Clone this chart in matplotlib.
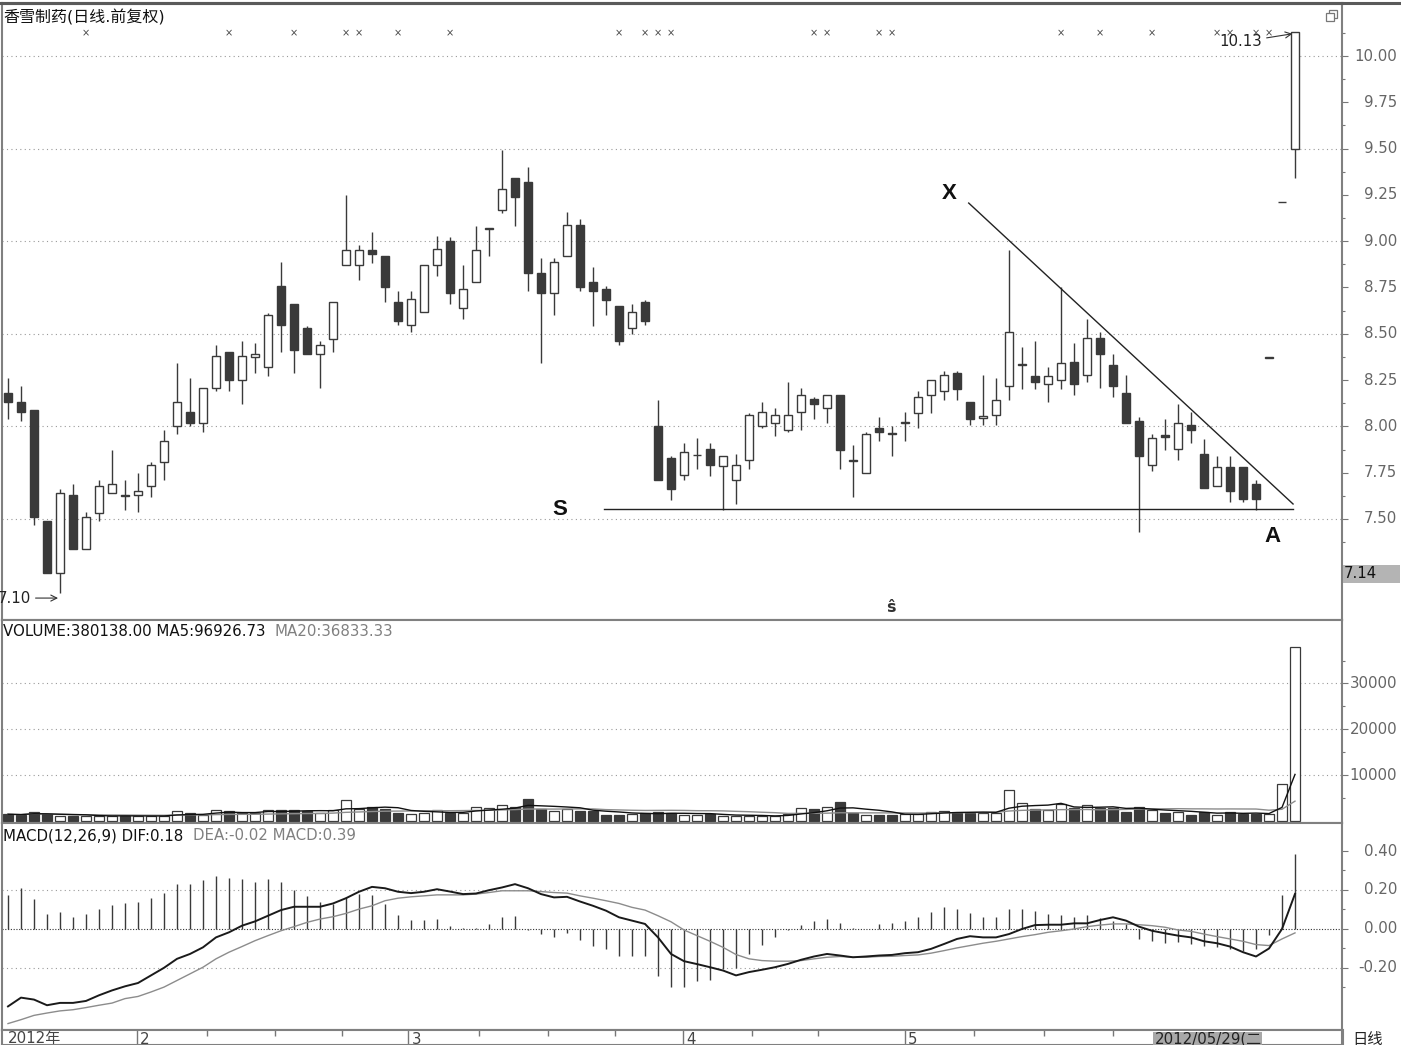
import matplotlib
matplotlib.use("Agg")
import matplotlib.pyplot as plt
from matplotlib.patches import Rectangle
from matplotlib.ticker import FixedLocator
import numpy as np
import pandas as pd

plt.rcParams['font.family'] = ['DejaVu Sans', 'Noto Sans CJK SC']

# ---- daily bars (前复权), one entry per trading day ----
opens = [8.18, 8.13, 8.09, 7.49, 7.21, 7.63, 7.34, 7.53, 7.64, 7.63,
         7.63, 7.68, 7.81, 8.00, 8.08, 8.02, 8.21, 8.40, 8.25, 8.375,
         8.32, 8.76, 8.66, 8.53, 8.39, 8.47, 8.87, 8.87, 8.95, 8.92,
         8.67, 8.55, 8.62, 8.87, 9.00, 8.64, 8.78, 9.065, 9.17, 9.34,
         9.32, 8.83, 8.72, 8.92, 9.09, 8.78, 8.74, 8.65, 8.53, 8.67,
         8.00, 7.83, 7.74, 7.843, 7.88, 7.785, 7.71, 7.82, 8.00, 8.02,
         7.98, 8.08, 8.15, 8.10, 8.17, 7.815, 7.75, 7.99, 7.963, 8.018,
         8.07, 8.17, 8.19, 8.29, 8.13, 8.044, 8.06, 8.22, 8.333, 8.27,
         8.23, 8.25, 8.35, 8.28, 8.48, 8.33, 8.18, 8.03, 7.79, 7.953,
         7.88, 8.01, 7.85, 7.68, 7.78, 7.78, 7.69, 8.37, 9.21, 9.50]
highs = [8.26, 8.22, 8.09, 7.49, 7.66, 7.69, 7.54, 7.71, 7.87, 7.71,
         7.75, 7.81, 7.98, 8.34, 8.26, 8.21, 8.44, 8.40, 8.46, 8.45,
         8.61, 8.89, 8.66, 8.54, 8.46, 8.67, 9.25, 8.98, 9.05, 8.92,
         8.73, 8.73, 8.87, 9.03, 9.02, 8.87, 9.08, 9.07, 9.49, 9.34,
         9.40, 8.91, 8.91, 9.16, 9.12, 8.86, 8.76, 8.65, 8.66, 8.68,
         8.14, 7.84, 7.91, 7.94, 7.91, 7.84, 7.85, 8.07, 8.13, 8.10,
         8.24, 8.21, 8.16, 8.17, 8.17, 7.90, 7.97, 8.05, 8.00, 8.08,
         8.19, 8.25, 8.30, 8.30, 8.13, 8.28, 8.26, 8.95, 8.43, 8.46,
         8.32, 8.75, 8.45, 8.58, 8.51, 8.39, 8.28, 8.05, 7.96, 8.04,
         8.12, 8.08, 7.93, 7.84, 7.84, 7.78, 7.71, 8.37, 9.21, 10.13]
lows = [8.04, 8.03, 7.47, 7.21, 7.10, 7.34, 7.34, 7.49, 7.64, 7.55,
        7.54, 7.62, 7.71, 7.96, 8.00, 7.97, 8.19, 8.19, 8.12, 8.29,
        8.27, 8.40, 8.29, 8.39, 8.21, 8.40, 8.87, 8.79, 8.88, 8.67,
        8.55, 8.51, 8.62, 8.81, 8.66, 8.58, 8.78, 8.92, 9.15, 9.08,
        8.73, 8.34, 8.60, 8.92, 8.73, 8.54, 8.60, 8.44, 8.50, 8.55,
        7.71, 7.60, 7.71, 7.77, 7.73, 7.55, 7.58, 7.77, 7.99, 7.95,
        7.97, 7.98, 8.04, 8.02, 7.77, 7.62, 7.75, 7.92, 7.84, 7.92,
        7.99, 8.07, 8.14, 8.14, 8.01, 8.01, 8.01, 8.14, 8.20, 8.20,
        8.13, 8.20, 8.17, 8.24, 8.21, 8.16, 8.02, 7.43, 7.76, 7.87,
        7.82, 7.91, 7.67, 7.68, 7.59, 7.59, 7.55, 8.37, 9.21, 9.34]
closes = [8.13, 8.08, 7.51, 7.21, 7.64, 7.34, 7.51, 7.68, 7.69, 7.625,
          7.65, 7.79, 7.92, 8.13, 8.02, 8.21, 8.38, 8.25, 8.38, 8.39,
          8.60, 8.55, 8.41, 8.39, 8.44, 8.67, 8.95, 8.95, 8.93, 8.75,
          8.57, 8.69, 8.87, 8.96, 8.72, 8.74, 8.95, 9.07, 9.28, 9.24,
          8.83, 8.72, 8.89, 9.09, 8.75, 8.73, 8.68, 8.46, 8.62, 8.57,
          7.71, 7.66, 7.86, 7.845, 7.79, 7.84, 7.79, 8.06, 8.08, 8.06,
          8.06, 8.17, 8.12, 8.17, 7.87, 7.812, 7.96, 7.97, 7.96, 8.02,
          8.16, 8.25, 8.28, 8.20, 8.04, 8.057, 8.14, 8.51, 8.335, 8.24,
          8.27, 8.34, 8.23, 8.48, 8.39, 8.22, 8.02, 7.84, 7.94, 7.945,
          8.02, 7.98, 7.67, 7.78, 7.65, 7.61, 7.61, 8.37, 9.21, 10.13]

# volume in chart units (x10)
volume = [1430, 1285, 1930, 1430, 1070, 1070, 1070, 1070, 1070, 1140,
          1000, 1000, 1070, 2140, 1640, 1210, 2360, 2140, 1640, 1640,
          2360, 2430, 2430, 2070, 1790, 2280, 4500, 2640, 3000, 2500,
          1640, 1500, 1710, 2430, 1790, 1790, 3000, 2710, 3360, 3000,
          4780, 2500, 2140, 2640, 2140, 2210, 1360, 1290, 1570, 1640,
          1930, 1785, 1285, 1285, 1570, 1070, 1070, 1070, 1070, 1070,
          1570, 2710, 2500, 3070, 4070, 1785, 1285, 1285, 1285, 1570,
          1570, 2000, 2140, 1785, 1785, 1785, 1785, 6640, 3930, 2500,
          2285, 3710, 2710, 3430, 2710, 2710, 2000, 3000, 2285, 1785,
          2000, 1285, 2000, 1285, 2000, 1570, 1570, 1480, 8000, 38014]

dif = [-0.397, -0.352, -0.362, -0.391, -0.379, -0.379, -0.369, -0.340, -0.315, -0.294,
       -0.277, -0.238, -0.199, -0.153, -0.128, -0.094, -0.043, -0.017, 0.017, 0.039,
       0.068, 0.097, 0.114, 0.114, 0.114, 0.131, 0.158, 0.191, 0.216, 0.209,
       0.191, 0.184, 0.191, 0.204, 0.192, 0.179, 0.182, 0.199, 0.213, 0.230,
       0.209, 0.179, 0.162, 0.165, 0.141, 0.119, 0.094, 0.060, 0.043, 0.026,
       -0.043, -0.128, -0.165, -0.180, -0.196, -0.213, -0.238, -0.221, -0.209, -0.196,
       -0.179, -0.158, -0.141, -0.128, -0.136, -0.145, -0.141, -0.136, -0.133, -0.124,
       -0.119, -0.102, -0.077, -0.051, -0.037, -0.043, -0.043, -0.026, 0.000, 0.020,
       0.022, 0.022, 0.029, 0.029, 0.046, 0.060, 0.043, 0.012, -0.009, -0.022,
       -0.034, -0.043, -0.063, -0.073, -0.090, -0.119, -0.141, -0.100, 0.000, 0.180]
dea = [-0.485, -0.465, -0.443, -0.431, -0.420, -0.414, -0.403, -0.391, -0.380, -0.357,
       -0.346, -0.323, -0.298, -0.264, -0.230, -0.196, -0.153, -0.119, -0.090, -0.060,
       -0.034, -0.009, 0.012, 0.034, 0.051, 0.063, 0.080, 0.102, 0.119, 0.145,
       0.158, 0.165, 0.170, 0.175, 0.175, 0.175, 0.179, 0.187, 0.196, 0.196,
       0.196, 0.192, 0.187, 0.184, 0.170, 0.158, 0.145, 0.131, 0.111, 0.097,
       0.068, 0.037, -0.005, -0.034, -0.063, -0.094, -0.131, -0.153, -0.162, -0.165,
       -0.165, -0.162, -0.153, -0.145, -0.141, -0.145, -0.145, -0.141, -0.140, -0.136,
       -0.133, -0.124, -0.111, -0.097, -0.085, -0.073, -0.063, -0.051, -0.039, -0.029,
       -0.017, -0.009, 0.000, 0.012, 0.020, 0.026, 0.026, 0.022, 0.017, 0.009,
       -0.005, -0.012, -0.026, -0.039, -0.051, -0.063, -0.080, -0.085, -0.051, -0.020]
macd = [0.174, 0.208, 0.153, 0.077, 0.089, 0.060, 0.077, 0.102, 0.124, 0.131,
        0.136, 0.158, 0.187, 0.230, 0.230, 0.250, 0.272, 0.264, 0.255, 0.243,
        0.255, 0.242, 0.199, 0.167, 0.141, 0.128, 0.165, 0.182, 0.174, 0.128,
        0.073, 0.046, 0.046, 0.051, 0.017, 0.005, 0.005, 0.026, 0.060, 0.068,
        -0.005, -0.026, -0.043, -0.022, -0.056, -0.085, -0.102, -0.141, -0.136, -0.136,
        -0.243, -0.298, -0.298, -0.265, -0.264, -0.204, -0.199, -0.128, -0.080, -0.039,
        -0.005, 0.020, 0.039, 0.051, 0.029, 0.005, 0.002, 0.026, 0.029, 0.039,
        0.060, 0.085, 0.111, 0.102, 0.080, 0.060, 0.060, 0.102, 0.102, 0.090,
        0.077, 0.073, 0.060, 0.073, 0.056, 0.043, 0.026, -0.051, -0.063, -0.071,
        -0.068, -0.077, -0.085, -0.090, -0.102, -0.111, -0.102, -0.030, 0.175, 0.386]

# info-mine markers (bar index) shown as x along the top
mine_idx = [6, 17, 22, 26, 27, 30, 34, 47, 49, 50, 51, 62, 63, 67, 68,
            81, 84, 88, 93, 94, 96, 97]

price_ticks = [7.50, 7.75, 8.00, 8.25, 8.50, 8.75, 9.00, 9.25, 9.50, 9.75, 10.00]
vol_ticks = [10000, 20000, 30000]
macd_ticks = [0.40, 0.20, 0.00, -0.20]

month_labels = ['2', '3', '4', '5']
month_pos = [9.9, 30.8, 51.9, 69.0]
week_pos = [15.3, 20.5, 25.7, 36.2, 41.5, 46.7, 57.2, 62.3, 74.3, 79.7, 85.0]

# hand-drawn support / resistance lines
s_line = ([45.85, 98.85], [7.554, 7.554])
x_line = ([73.9, 98.85], [9.206, 7.581])

W, H = 1401, 1045
DARK = '#3a3a3a'
GRAYLINE = '#8c8c8c'
SPINE = '#808080'
LABEL = '#666666'
FS = 10.8

idx = np.arange(len(closes))
o, h, l, c = (np.array(a) for a in (opens, highs, lows, closes))
up = c >= o
face = np.where(up, 'white', DARK)
vol_ma5 = pd.Series(volume).rolling(5, min_periods=1).mean()
vol_ma20 = pd.Series(volume).rolling(20, min_periods=1).mean()

fig = plt.figure(figsize=(W / 100, H / 100), dpi=100)
fig.patch.set_facecolor('white')


def px_axes(x0, y0, x1, y1):
    return fig.add_axes([x0 / W, 1 - y1 / H, (x1 - x0) / W, (y1 - y0) / H])


ax_p = px_axes(2, 3, 1342, 620)
ax_v = px_axes(2, 620, 1342, 823)
ax_m = px_axes(2, 823, 1342, 1030)
ax_d = px_axes(2, 1030, 1342, 1045)

XLIM = (-0.4615, 102.615)
for ax in (ax_p, ax_v, ax_m, ax_d):
    ax.set_xlim(*XLIM)
    ax.set_xticks([])
    ax.set_facecolor('white')
    for sp in ax.spines.values():
        sp.set_color(SPINE)
        sp.set_linewidth(1.5)
ax_p.spines['top'].set_color('#5a5a5a')
ax_p.spines['top'].set_linewidth(2.2)

ax_p.set_ylim(6.9546, 10.2862)
ax_v.set_ylim(-480, 43843)
ax_m.set_ylim(-0.518, 0.5436)
ax_d.set_ylim(0, 1)
ax_d.set_yticks([])


def right_axis(ax, major, labels, minor):
    ax.yaxis.tick_right()
    ax.set_yticks(major)
    ax.set_yticklabels([])
    ax.yaxis.set_minor_locator(FixedLocator(minor))
    ax.tick_params(axis='y', which='major', length=4.3, width=0.8, color='#777777')
    ax.tick_params(axis='y', which='minor', length=2.2, width=0.8, color='#777777')
    for v, lab in zip(major, labels):
        ax.text(1.0412, v, lab, transform=ax.get_yaxis_transform(), ha='right',
                va='center', fontsize=FS, color=LABEL, clip_on=False)


def dotted(ax, levels, color='#9a9a9a', dash=(1, 3)):
    for v in levels:
        ax.axhline(v, color=color, lw=0.8, linestyle=(0, dash), zorder=0)


# ---- price panel ----
dotted(ax_p, [7.5, 8.0, 8.5, 9.0, 9.5, 10.0])
right_axis(ax_p, price_ticks, [f'{t:.2f}' for t in price_ticks],
           np.arange(7.375, 10.2, 0.125))
ax_p.vlines(idx, l, h, color=DARK, lw=1.0, zorder=2)
body_lo = np.minimum(o, c)
body_h = np.maximum(np.abs(c - o), 0.004)
ax_p.bar(idx, body_h, bottom=body_lo, width=0.66, color=face,
         edgecolor=DARK, linewidth=1.0, zorder=3)

ax_p.plot(*s_line, color='#222222', lw=1.0, zorder=4)
ax_p.plot(*x_line, color='#222222', lw=1.0, zorder=4)
ax_p.text(42.46, 7.549, 'S', fontsize=16, ha='center', va='center',
          family='Liberation Sans', fontweight='bold', color='#111111')
ax_p.text(72.4, 9.26, 'X', fontsize=16, ha='center', va='center',
          family='Liberation Sans', fontweight='bold', color='#111111')
ax_p.text(97.3, 7.403, 'A', fontsize=16, ha='center', va='center',
          family='Liberation Sans', fontweight='bold', color='#111111')

top_tf = ax_p.get_xaxis_transform()
for i in mine_idx:
    ax_p.text(i, 0.951, '×', transform=top_tf, ha='center', va='center',
              fontsize=7, color='#444444')
ax_p.text(67.9, 0.02, 'ŝ', transform=top_tf, ha='center', va='center',
          fontsize=11.5, color='#333333', fontweight='bold')

ax_p.annotate('10.13', xy=(98.8, 10.12), xytext=(96.5, 10.076),
              ha='right', va='center', fontsize=FS, color='#222222',
              arrowprops=dict(arrowstyle='->', color='#333333', lw=0.8,
                              shrinkA=1, shrinkB=0))
ax_p.annotate('7.10', xy=(3.85, 7.073), xytext=(1.8, 7.073),
              ha='right', va='center', fontsize=FS, color='#222222',
              annotation_clip=False,
              arrowprops=dict(arrowstyle='->', color='#333333', lw=0.8,
                              shrinkA=1, shrinkB=0))

# ---- volume panel ----
dotted(ax_v, vol_ticks)
right_axis(ax_v, vol_ticks, [str(t) for t in vol_ticks], [5000, 15000, 25000, 35000])
ax_v.bar(idx, volume, width=0.7, color=face, edgecolor=DARK, linewidth=0.9, zorder=2)
ax_v.plot(idx, vol_ma20, color=GRAYLINE, lw=1.0, zorder=3)
ax_v.plot(idx, vol_ma5, color='#111111', lw=1.0, zorder=4)

# ---- MACD panel ----
dotted(ax_m, [0.20, -0.20])
dotted(ax_m, [0.0], color='#333333', dash=(1, 1.5))
right_axis(ax_m, macd_ticks, [f'{t:.2f}' for t in macd_ticks], [0.30, 0.10, -0.10, -0.30])
ax_m.vlines(idx, 0, macd, color=DARK, lw=1.0, zorder=2)
ax_m.plot(idx, dea, color=GRAYLINE, lw=1.0, zorder=3)
ax_m.plot(idx, dif, color='#1a1a1a', lw=1.4, zorder=4)

# ---- date strip ----
ax_d.vlines(month_pos, 0, 1, color='#777777', lw=1.0)
ax_d.vlines(week_pos, 0.62, 1, color='#777777', lw=1.0)
ax_d.text(0, 0.9, '2012年', ha='left', va='top', fontsize=FS, color='#444444',
          clip_on=False)
for pos, lab in zip(month_pos, month_labels):
    ax_d.text(pos + 0.25, 0.9, lab, ha='left', va='top', fontsize=FS,
              color='#444444', clip_on=False)

# ---- headers and right-side decorations ----
fig.text(3 / W, 1 - 17 / H, '香雪制药(日线.前复权)', fontsize=11.5, color='#111111',
         ha='left', va='center')
fig.text(3 / W, 1 - 632 / H, 'VOLUME:380138.00 MA5:96926.73', fontsize=FS,
         color='#111111', ha='left', va='center')
fig.text(274 / W, 1 - 632 / H, 'MA20:36833.33', fontsize=FS, color='#808080',
         ha='left', va='center')
fig.text(3 / W, 1 - 836 / H, 'MACD(12,26,9) DIF:0.18', fontsize=FS,
         color='#111111', ha='left', va='center')
fig.text(193 / W, 1 - 836 / H, 'DEA:-0.02 MACD:0.39', fontsize=FS, color='#808080',
         ha='left', va='center')


def px_rect(x0, y0, x1, y1, **kw):
    fig.patches.append(Rectangle((x0 / W, 1 - y1 / H), (x1 - x0) / W, (y1 - y0) / H,
                                 transform=fig.transFigure, figure=fig, **kw))


px_rect(1343, 565, 1400, 583, facecolor='#b4b4b4', edgecolor='none')
fig.text(1344 / W, 1 - 574 / H, '7.14', fontsize=FS, color='#111111',
         ha='left', va='center')
px_rect(1329, 10, 1337, 18, facecolor='white', edgecolor='#777777', lw=0.9)
px_rect(1326, 13, 1334, 21, facecolor='white', edgecolor='#777777', lw=0.9)
px_rect(1153, 1032, 1262, 1046, facecolor='#a8a8a8', edgecolor='none')
fig.text(1155 / W, 1 - 1032 / H, '2012/05/29(二', fontsize=FS, color='#222222',
         ha='left', va='top')
fig.text(1352 / W, 1 - 1032 / H, '日线', fontsize=11, color='#222222',
         ha='left', va='top')
fig.lines.append(plt.Line2D([1342.5 / W, 1342.5 / W], [0, 1 - 1030 / H],
                            transform=fig.transFigure, color=SPINE, lw=1.5))
fig.lines.append(plt.Line2D([0, 1], [1 - 3 / H, 1 - 3 / H],
                            transform=fig.transFigure, color='#5a5a5a', lw=2.2))

fig.savefig('out.png', dpi=100, facecolor='white')
